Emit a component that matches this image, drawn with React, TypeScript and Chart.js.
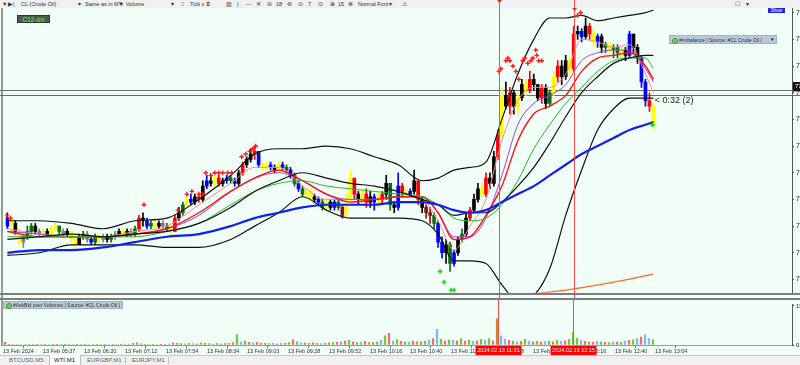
import React, { useEffect, useRef } from "react";
import { Chart, registerables } from "chart.js";
Chart.register(...registerables);

const FONT = "'Liberation Sans', Arial, sans-serif";

// ---- Candles (bar index 0..162), prices in USD ----
const OPEN = [
  77.10,77.13,77.11,77.08,77.04,77.06,77.08,77.10,77.08,77.07,
  77.08,77.07,77.09,77.10,77.08,77.07,77.08,77.05,77.03,77.06,
  77.07,77.05,77.04,77.06,77.05,77.06,77.05,77.06,77.07,77.08,
  77.07,77.08,77.07,77.09,77.13,77.12,77.10,77.11,77.10,77.11,
  77.10,77.09,77.08,77.13,77.15,77.18,77.20,77.19,77.21,77.20,
  77.25,77.27,77.26,77.28,77.26,77.27,77.28,77.27,77.26,77.30,
  77.33,77.35,77.37,77.38,77.33,77.32,77.33,77.32,77.31,77.33,
  77.32,77.31,77.29,77.26,77.24,77.22,77.23,77.21,77.20,77.19,
  77.17,77.19,77.17,77.19,77.17,77.14,77.20,77.28,77.22,77.20,
  77.22,77.19,77.21,77.19,77.20,77.22,77.26,77.18,77.17,77.25,
  77.23,77.22,77.23,77.27,77.20,77.17,77.15,77.14,77.11,77.04,
  77.00,77.03,76.96,77.00,77.05,77.07,77.13,77.16,77.20,77.24,
  77.22,77.28,77.26,77.36,77.44,77.59,77.55,77.60,77.55,77.58,
  77.63,77.61,77.65,77.63,77.58,77.62,77.56,77.60,77.66,77.70,
  77.66,77.72,77.69,77.82,77.83,77.81,77.85,77.82,77.79,77.81,
  77.77,77.78,77.76,77.77,77.75,77.76,77.74,77.82,77.77,77.73,
  77.64,77.57,77.55,
];
const CLOSE = [
  77.13,77.11,77.08,77.04,77.06,77.08,77.10,77.08,77.07,77.08,
  77.07,77.09,77.10,77.08,77.07,77.08,77.05,77.03,77.06,77.07,
  77.05,77.04,77.06,77.05,77.06,77.05,77.06,77.07,77.08,77.07,
  77.08,77.07,77.09,77.13,77.12,77.10,77.11,77.10,77.11,77.10,
  77.09,77.08,77.13,77.15,77.18,77.20,77.19,77.21,77.20,77.25,
  77.27,77.26,77.28,77.26,77.27,77.28,77.27,77.26,77.30,77.33,
  77.35,77.37,77.38,77.33,77.32,77.33,77.32,77.31,77.33,77.32,
  77.31,77.29,77.26,77.24,77.22,77.23,77.21,77.20,77.19,77.17,
  77.19,77.17,77.19,77.17,77.14,77.20,77.28,77.22,77.20,77.22,
  77.19,77.21,77.19,77.20,77.22,77.26,77.18,77.17,77.25,77.23,
  77.22,77.23,77.27,77.20,77.17,77.15,77.14,77.11,77.04,77.00,
  77.03,76.96,77.00,77.05,77.07,77.13,77.16,77.20,77.24,77.22,
  77.28,77.26,77.36,77.44,77.59,77.55,77.60,77.55,77.58,77.63,
  77.61,77.65,77.63,77.58,77.62,77.56,77.60,77.66,77.70,77.66,
  77.72,77.69,77.82,77.83,77.81,77.85,77.82,77.79,77.81,77.77,
  77.78,77.76,77.77,77.75,77.76,77.74,77.82,77.77,77.73,77.64,
  77.57,77.55,77.48,
];
const HIGH = [
  77.15,77.14,77.12,77.09,77.07,77.10,77.11,77.11,77.09,77.09,
  77.09,77.10,77.11,77.10,77.09,77.09,77.08,77.06,77.07,77.08,
  77.08,77.06,77.07,77.07,77.07,77.07,77.07,77.08,77.09,77.09,
  77.09,77.09,77.10,77.14,77.15,77.13,77.12,77.12,77.12,77.12,
  77.11,77.10,77.14,77.17,77.19,77.21,77.22,77.22,77.22,77.27,
  77.29,77.29,77.29,77.29,77.28,77.29,77.29,77.28,77.31,77.34,
  77.36,77.39,77.40,77.38,77.34,77.34,77.34,77.33,77.34,77.34,
  77.33,77.32,77.30,77.27,77.25,77.24,77.24,77.22,77.21,77.20,
  77.20,77.20,77.20,77.20,77.18,77.22,77.31,77.28,77.23,77.24,
  77.24,77.23,77.22,77.22,77.23,77.29,77.26,77.19,77.30,77.26,
  77.24,77.24,77.31,77.27,77.21,77.18,77.17,77.15,77.12,77.06,
  77.05,77.04,77.01,77.06,77.09,77.15,77.17,77.22,77.26,77.26,
  77.30,77.30,77.38,77.46,77.62,77.64,77.62,77.61,77.60,77.65,
  77.65,77.68,77.67,77.63,77.63,77.63,77.61,77.68,77.72,77.72,
  77.74,77.73,77.85,77.85,77.84,77.88,77.86,77.84,77.82,77.82,
  77.79,77.79,77.78,77.78,77.77,77.77,77.83,77.82,77.78,77.74,
  77.65,77.60,77.56,
];
const LOW = [
  77.09,77.09,77.07,77.03,77.02,77.05,77.07,77.07,77.06,77.06,
  77.06,77.06,77.08,77.07,77.06,77.06,77.04,77.02,77.03,77.05,
  77.04,77.03,77.03,77.04,77.04,77.04,77.04,77.05,77.06,77.06,
  77.06,77.06,77.06,77.08,77.10,77.09,77.09,77.09,77.09,77.09,
  77.08,77.07,77.08,77.12,77.14,77.17,77.18,77.18,77.19,77.19,
  77.24,77.25,77.25,77.25,77.25,77.26,77.26,77.25,77.25,77.29,
  77.32,77.34,77.35,77.32,77.31,77.31,77.31,77.30,77.30,77.31,
  77.30,77.28,77.25,77.23,77.21,77.21,77.20,77.19,77.18,77.16,
  77.16,77.16,77.16,77.16,77.13,77.14,77.19,77.20,77.18,77.19,
  77.17,77.17,77.16,77.17,77.18,77.20,77.16,77.15,77.16,77.21,
  77.21,77.21,77.22,77.18,77.15,77.13,77.11,77.09,77.02,76.98,
  76.96,76.93,76.95,76.99,77.04,77.06,77.12,77.15,77.19,77.21,
  77.21,77.24,77.25,77.35,77.43,77.54,77.52,77.52,77.52,77.57,
  77.59,77.60,77.61,77.57,77.56,77.54,77.55,77.59,77.64,77.63,
  77.65,77.66,77.68,77.80,77.79,77.80,77.80,77.77,77.77,77.75,
  77.75,77.74,77.73,77.73,77.73,77.72,77.73,77.75,77.71,77.62,
  77.55,77.53,77.46,
];
// candle colour codes: k black, b blue, y yellow, g green, r red, d dark red, a gray
const CANDLE_COLORS =
  "bykyaggkay" + "kyygakyykg" + "abgyakgaky" + "kagrkbgyka" + "gyrkgybkrk" +
  "bkyrkbgbkr" + "kkrbyybkyb" + "gbgbgyykbg" + "ykbgdyyrky" + "rkbyrkgkbr" +
  "ybkrkddgbb" + "kgbkgkrkky" + "rkkrykrkyk" + "yrkkrkgyrk" + "kyrkbkrybk" +
  "gyggykbkkb" + "bry";

// ---- Indicator lines sampled at these bar indices ----
const LINE_IDX = [0,8,16,24,32,40,48,56,62,68,74,80,86,92,98,104,108,112,116,120,124,128,132,136,140,144,148,152,156,160,162];
const BB_UPPER = [77.12,77.12,77.11,77.09,77.12,77.13,77.20,77.29,77.37,77.39,77.39,77.40,77.39,77.36,77.33,77.27,77.28,77.31,77.32,77.34,77.50,77.67,77.80,77.88,77.88,77.89,77.87,77.88,77.89,77.90,77.91];
const BB_MIDDLE = [77.05,77.06,77.07,77.06,77.07,77.08,77.11,77.17,77.23,77.27,77.30,77.28,77.26,77.25,77.23,77.20,77.18,77.14,77.15,77.15,77.19,77.25,77.32,77.41,77.51,77.60,77.66,77.71,77.73,77.74,77.74];
const BB_LOWER = [76.99,77.00,77.03,77.03,77.03,77.02,77.02,77.05,77.10,77.15,77.21,77.16,77.13,77.13,77.13,77.12,77.07,76.97,76.97,76.96,76.88,76.82,76.84,76.94,77.14,77.31,77.46,77.54,77.58,77.58,77.58];
const EMA_BLUE = [77.00,77.01,77.01,77.02,77.04,77.06,77.07,77.10,77.13,77.15,77.17,77.18,77.18,77.18,77.19,77.19,77.18,77.16,77.15,77.16,77.19,77.22,77.25,77.29,77.33,77.37,77.40,77.43,77.46,77.48,77.49];
const EMA_GREEN = [77.06,77.06,77.06,77.06,77.06,77.08,77.11,77.18,77.23,77.26,77.27,77.25,77.24,77.23,77.22,77.21,77.18,77.13,77.12,77.13,77.18,77.27,77.39,77.48,77.56,77.62,77.68,77.72,77.73,77.73,77.69];
const EMA_RED = [77.08,77.06,77.06,77.06,77.07,77.09,77.15,77.23,77.28,77.31,77.27,77.22,77.19,77.20,77.21,77.21,77.15,77.05,77.06,77.14,77.25,77.42,77.52,77.55,77.59,77.68,77.73,77.74,77.75,77.70,77.65];
const EMA_PURPLE = [77.08,77.07,77.06,77.06,77.07,77.09,77.14,77.23,77.28,77.30,77.27,77.22,77.20,77.20,77.21,77.21,77.15,77.06,77.06,77.13,77.29,77.48,77.56,77.59,77.63,77.72,77.75,77.76,77.76,77.69,77.64];
const EMA_PINK = [77.09,77.07,77.06,77.06,77.08,77.10,77.18,77.26,77.32,77.32,77.25,77.20,77.20,77.20,77.21,77.20,77.12,77.01,77.10,77.20,77.42,77.57,77.62,77.62,77.67,77.80,77.79,77.77,77.78,77.67,77.60];
const ORANGE_IDX = [128, 140, 152, 162];
const ORANGE_VAL = [76.84, 76.86, 76.89, 76.92];

// ---- Markers ----
const RED_MARK_X = [-0.25,0.75,34.25,42.75,45,46.25,48,49,49.75,51,52,53,54,55.25,56.25,58.75,59.75,60.75,61.5,62.25,123.25,123.75,125,125.5,126,126.75,127.5,128.25,129.25,129.75,130.5,131.25,131.75,132.5,132.75,133.25,134,143,143.75];
const RED_MARK_Y = [77.14,77.13,77.18,77.16,77.22,77.23,77.22,77.22,77.30,77.29,77.30,77.30,77.30,77.30,77.30,77.36,77.37,77.38,77.39,77.40,77.68,77.69,77.72,77.73,77.72,77.70,77.68,77.65,77.72,77.73,77.71,77.72,77.73,77.76,77.74,77.72,77.72,77.89,77.90];
const GREEN_MARK_X = [108.5, 109.5, 111.25, 112, 161.75];
const GREEN_MARK_Y = [76.93, 76.89, 76.86, 76.86, 77.48];

// ---- Levels, time markers, axis ----
const HLINES = [77.61, 77.59];
const PRICE_LABEL = 77.62;
const VLINES = [123.25, 142];
const VLINE_LABELS = ["2024.02.13 11:31", "2024.02.13 12:15"];
const Y_TICKS = [76.9, 77.0, 77.1, 77.2, 77.3, 77.4, 77.5, 77.6, 77.7, 77.8, 77.9];
const X_TICK_POS = [-0.5, 9.5, 19.75, 30, 40.25, 50.5, 60.5, 70.75, 81, 91.25, 101.25, 111.5, 121.75, 132, 142.25, 152.5, 162.5];
const X_TICK_LABELS = ["13 Feb 2024","13 Feb 05:37","13 Feb 06:20","13 Feb 07:12","13 Feb 07:54","13 Feb 08:34","13 Feb 09:03","13 Feb 09:28","13 Feb 09:52","13 Feb 10:16","13 Feb 10:40","13 Feb 11:04","13 Feb 11:28","13 Feb 11:52","13 Feb 12:16","13 Feb 12:40","13 Feb 13:04"];
const COUNTDOWN = "< 0:32 (2)";

// ---- Volumes per bar ----
const VOLUME = [
  1,0.3,0.2,0.3,0.2,0.2,0.3,0.1,0.1,0.2,
  0.1,0.2,0.3,0.1,0.2,0.1,0.1,0.2,0.1,0.2,
  0.1,0.2,0.2,0.1,0.2,0.1,0.2,0.1,0.2,0.1,
  0.2,0.2,0.6,0.8,0.5,0.3,0.2,0.3,0.2,0.3,
  0.3,0.4,0.8,0.6,0.5,0.4,0.6,0.5,0.4,0.8,
  0.6,0.5,0.4,0.5,0.4,0.5,0.6,0.8,4,1.2,
  1.5,1,0.8,1,0.7,0.6,0.5,0.6,0.4,0.5,
  0.6,0.9,2,1.2,0.8,0.7,0.6,0.8,0.6,0.5,
  0.7,0.8,0.9,1,1.2,1.5,1.8,1.2,0.9,1,
  1.4,1,0.9,1.2,1.8,3.5,4.5,1.5,2,1.4,
  1.2,1.1,1.5,1.3,1.2,1.4,1.8,2.5,6,2.2,
  1.5,2,1.8,1.6,2.5,1.5,1.8,1.4,1.6,2.2,
  1.8,2.5,1.6,10,3.5,2.2,1.8,1.5,1.2,1.4,
  2.2,1.5,1.2,1.4,1.1,1.3,1.5,1.2,1.8,1.4,
  1.6,2.2,5,2.6,1.8,1.4,1.2,1.1,1.4,1.2,
  1,0.9,1.1,1.2,1,1.4,1.8,2,2.5,3,
  4,2.5,2,
];
const VOL_COLORS =
  "rgrcgrgcrg" + "rcgrgrcggr" + "gcrgrgcrgr" + "grgrcgrgcr" + "gcrgrggcrg" +
  "rgcrgrgrgc" + "grcrgrgcrg" + "rgrgcrgrgc" + "grgrcrgrgc" + "rgrgcgrcgr" +
  "gcrgrgcrcg" + "rgcrgrgcrg" + "cgroccrgcr" + "gcrgrcgrgc" + "rgggcrgrcg" +
  "rgcrgcrgcr" + "ccg";

const CANDLE_PALETTE: Record<string, string> = {
  k: "#000000", b: "#0000ff", y: "#ffff00", g: "#0b6e0b", r: "#ff0000", d: "#8b1010", a: "#808080",
};
const VOL_PALETTE: Record<string, string> = { r: "#ff6a6a", g: "#7cc43a", c: "#78bdf5", o: "#c0902a" };

const X_MIN = -0.5;
const X_MAX = 196.75;

function pts(xs: number[], ys: number[]) {
  return xs.map((x, i) => ({ x, y: ys[i] }));
}

const mainOverlay = {
  id: "mainOverlay",
  beforeDatasetsDraw(chart: any) {
    const { ctx, scales } = chart;
    const y = scales.y;
    ctx.save();
    ctx.lineWidth = 1;
    ctx.strokeStyle = "#6e6e6e";
    HLINES.forEach((p) => {
      const py = Math.round(y.getPixelForValue(p)) + 0.5;
      ctx.beginPath(); ctx.moveTo(0, py); ctx.lineTo(chart.width, py); ctx.stroke();
    });
    ctx.restore();
  },
  afterDraw(chart: any) {
    const { ctx, chartArea, scales } = chart;
    const x = scales.x, y = scales.y;
    ctx.save();
    ctx.lineWidth = 1;
    ctx.strokeStyle = "#ff4a4a";
    VLINES.forEach((v, k) => {
      const px = Math.round(x.getPixelForValue(v)) + 0.5;
      ctx.beginPath(); ctx.moveTo(px, 0); ctx.lineTo(px, chart.height); ctx.stroke();
      ctx.fillStyle = "#ff2020";
      const ty = k === 0 ? 0 : chartArea.top;
      ctx.beginPath(); ctx.moveTo(px - 2.5, ty); ctx.lineTo(px + 2.5, ty); ctx.lineTo(px, ty + 3); ctx.closePath(); ctx.fill();
    });
    // price label on the axis
    const y1 = y.getPixelForValue(PRICE_LABEL + 0.02);
    const y2 = y.getPixelForValue(PRICE_LABEL - 0.015);
    ctx.fillStyle = "#111";
    ctx.fillRect(chartArea.right + 1, y1, chart.width - chartArea.right, y2 - y1);
    ctx.fillStyle = "#fff";
    ctx.font = `6px ${FONT}`;
    ctx.textBaseline = "middle";
    ctx.fillText(PRICE_LABEL.toFixed(2), chartArea.right + 3, (y1 + y2) / 2);
    // countdown text next to the last bar
    const last = CLOSE.length - 1;
    const cx = x.getPixelForValue(last + 0.35);
    const cy = y.getPixelForValue(OPEN[last] + 0.02);
    ctx.fillStyle = "#222";
    ctx.font = `9px ${FONT}`;
    ctx.textAlign = "left";
    ctx.fillText(COUNTDOWN, cx, cy);
    ctx.restore();
  },
};

const volOverlay = {
  id: "volOverlay",
  afterDraw(chart: any) {
    const { ctx, chartArea, scales } = chart;
    const x = scales.x;
    ctx.save();
    ctx.lineWidth = 1;
    ctx.strokeStyle = "#ff4a4a";
    VLINES.forEach((v, k) => {
      const px = Math.round(x.getPixelForValue(v)) + 0.5;
      ctx.beginPath(); ctx.moveTo(px, 0); ctx.lineTo(px, chartArea.bottom); ctx.stroke();
      ctx.fillStyle = "#ff0000";
      ctx.fillRect(px - 23, chartArea.bottom + 1, 46, 9);
      ctx.fillStyle = "#ffffff";
      ctx.font = `5.5px ${FONT}`;
      ctx.textAlign = "center";
      ctx.textBaseline = "middle";
      ctx.fillText(VLINE_LABELS[k], px, chartArea.bottom + 5.5);
    });
    ctx.restore();
  },
};

const TOOLBAR: [number, string][] = [
  [2, "▼"], [8, "▶|"], [21, "CL (Crude Oil)"], [78, "▾"], [85, "Same as in MT"], [120, "▾"],
  [126, "Volume"], [171, "▾"], [181, "⌶"], [190, "Tick x 1"], [206, "⇕"], [226, "▥"], [237, "|"],
  [246, "—"], [256, "✕"], [267, "⊝"], [276, "18"], [287, "⊛"], [298, "⊙"], [308, "7"], [318, "⊙"],
  [330, "⊕"], [338, "15"], [348, "⊗"], [358, "Normal Font"], [389, "▾"], [402, "⚠"], [735, "☐"], [746, "▾"],
];

const TABS: [number, string, boolean][] = [
  [9, "BTCUSD,M5", false], [54, "WTI,M1", true], [87, "EURGBP,M1", false], [132, "EURJPY,M1", false],
];

export default function App() {
  const mainRef = useRef<HTMLCanvasElement>(null);
  const volRef = useRef<HTMLCanvasElement>(null);

  useEffect(() => {
    document.body.style.margin = "0";
    const idx = OPEN.map((_, i) => i);
    const cColors = idx.map((i) => CANDLE_PALETTE[CANDLE_COLORS[i]] || "#000");
    const lineDs = (label: string, vals: number[], color: string, width: number, xs = LINE_IDX) => ({
      type: "line" as const,
      label,
      data: pts(xs, vals),
      borderColor: color,
      borderWidth: width,
      pointRadius: 0,
      cubicInterpolationMode: "monotone" as const,
      fill: false,
      order: 0,
    });

    const main = new Chart(mainRef.current!, {
      type: "bar",
      data: {
        datasets: [
          {
            type: "line", label: "red marks", data: pts(RED_MARK_X, RED_MARK_Y), showLine: false,
            pointStyle: "cross", pointRadius: 2.3, borderColor: "#ff1a1a", borderWidth: 1.4, order: -2,
          } as any,
          {
            type: "line", label: "green marks", data: pts(GREEN_MARK_X, GREEN_MARK_Y), showLine: false,
            pointStyle: "cross", pointRadius: 2.3, borderColor: "#10d010", borderWidth: 1.4, order: -2,
          } as any,
          lineDs("EMA blue", EMA_BLUE, "#1020ee", 2.2),
          lineDs("BB upper", BB_UPPER, "#111111", 1.2),
          lineDs("BB middle", BB_MIDDLE, "#111111", 1.2),
          lineDs("BB lower", BB_LOWER, "#111111", 1.2),
          lineDs("EMA green", EMA_GREEN, "#2ab52a", 1),
          lineDs("EMA red", EMA_RED, "#ff1010", 1.4),
          lineDs("EMA purple", EMA_PURPLE, "#a040f0", 1),
          lineDs("EMA pink", EMA_PINK, "#ff8a8a", 1),
          lineDs("Long EMA", ORANGE_VAL, "#ff6a2a", 1.4, ORANGE_IDX),
          {
            type: "bar", label: "wick", data: idx.map((i) => ({ x: i, y: [LOW[i], HIGH[i]] })),
            backgroundColor: cColors, barThickness: 1, grouped: false, order: 1,
          } as any,
          {
            type: "bar", label: "body", data: idx.map((i) => ({ x: i, y: [OPEN[i], CLOSE[i]] })),
            backgroundColor: cColors, barThickness: 3, minBarLength: 1, grouped: false, order: 1,
          } as any,
        ],
      },
      options: {
        animation: false,
        responsive: false,
        maintainAspectRatio: false,
        events: [],
        layout: { padding: { left: 3, top: 8, right: 0, bottom: 6 } },
        plugins: { legend: { display: false }, tooltip: { enabled: false } },
        scales: {
          x: { type: "linear", min: X_MIN, max: X_MAX, offset: false, display: false },
          y: {
            position: "right", min: 76.85, max: 77.9175,
            afterFit: (s: any) => { s.width = 8; },
            afterBuildTicks: (s: any) => { s.ticks = Y_TICKS.map((v) => ({ value: v })); },
            ticks: { font: { size: 7, family: FONT }, color: "#222", padding: 2, callback: (v: any) => Number(v).toFixed(2) },
            grid: { drawOnChartArea: false, tickLength: 2, color: "#555" },
            border: { color: "#555" },
          },
        },
      } as any,
      plugins: [mainOverlay],
    });

    const vol = new Chart(volRef.current!, {
      type: "bar",
      data: {
        datasets: [
          {
            label: "volume", data: idx.map((i) => ({ x: i, y: VOLUME[i] })),
            backgroundColor: idx.map((i) => VOL_PALETTE[VOL_COLORS[i]] || "#7cc43a"),
            barThickness: 1.6, grouped: false,
          } as any,
        ],
      },
      options: {
        animation: false,
        responsive: false,
        maintainAspectRatio: false,
        events: [],
        layout: { padding: { left: 3, top: 1, right: 0, bottom: 0 } },
        plugins: { legend: { display: false }, tooltip: { enabled: false } },
        scales: {
          x: {
            type: "linear", min: X_MIN, max: X_MAX, offset: false,
            afterFit: (s: any) => { s.height = 10; },
            afterBuildTicks: (s: any) => { s.ticks = X_TICK_POS.map((v) => ({ value: v })); },
            ticks: {
              autoSkip: false, maxRotation: 0, minRotation: 0, align: "start", padding: 0,
              font: { size: 5.5, family: FONT }, color: "#333",
              callback: (_v: any, i: number) => X_TICK_LABELS[i],
            },
            grid: { drawOnChartArea: false, tickLength: 3, color: "#777" },
            border: { color: "#999" },
          },
          y: {
            position: "right", min: 0, max: 15.5,
            afterFit: (s: any) => { s.width = 8; },
            afterBuildTicks: (s: any) => { s.ticks = [{ value: 0 }, { value: 15 }]; },
            ticks: { font: { size: 6, family: FONT }, color: "#222", padding: 2, callback: (v: any) => String(v) },
            grid: { drawOnChartArea: false, tickLength: 2, color: "#555" },
            border: { color: "#555" },
          },
        },
      } as any,
      plugins: [volOverlay],
    });

    return () => { main.destroy(); vol.destroy(); };
  }, []);

  const abs = (s: React.CSSProperties): React.CSSProperties => ({ position: "absolute", ...s });

  return (
    <div style={{ position: "fixed", left: 0, top: 0, width: 800, height: 365, background: "#f1fdf7", overflow: "hidden", fontFamily: FONT }}>
      <div style={abs({ left: 0, top: 0, width: 800, height: 8, background: "#f0f0f0" })}>
        {TOOLBAR.map(([x, t], i) => (
          <span key={i} style={abs({ left: x, top: 0, fontSize: 5.5, lineHeight: "8px", color: "#333", whiteSpace: "nowrap" })}>{t}</span>
        ))}
      </div>
      <div style={abs({ left: 1, top: 8, width: 2, height: 338, background: "#9a9a9a" })} />
      <canvas ref={mainRef} width={800} height={299} style={abs({ left: 0, top: 0, width: 800, height: 299 })} />
      <canvas ref={volRef} width={800} height={56} style={abs({ left: 0, top: 299, width: 800, height: 56 })} />
      <div style={abs({ left: 0, top: 293, width: 800, height: 2, background: "#7d7d7d" })} />
      <div style={abs({ left: 0, top: 298, width: 800, height: 2, background: "#7d7d7d" })} />
      <div style={abs({ left: 17, top: 15, width: 33, height: 8, background: "#555", border: "1px solid #333", boxSizing: "border-box", color: "#22ee22", fontSize: 6.5, lineHeight: "7px", textAlign: "center", fontWeight: "bold" })}>C12-on</div>
      <div style={abs({ left: 768, top: 8, width: 17, height: 5, background: "#2323e8", color: "#fff", fontSize: 4.5, lineHeight: "5px", textAlign: "center" })}>Show</div>
      <div style={abs({ left: 669, top: 35, width: 108, height: 9, background: "#b8c7da", border: "1px solid #a3b3c8", boxSizing: "border-box" })}>
        <span style={abs({ left: 2, top: 1.5, width: 4, height: 4, borderRadius: 3, background: "#7ccf5a", border: "0.5px solid #4a8a3a" })} />
        <span style={abs({ left: 9, top: 0, fontSize: 5, lineHeight: "8px", color: "#333", whiteSpace: "nowrap" })}>#Imbalance | Source: #CL Crude Oil |</span>
        <span style={abs({ left: 100, top: 0, fontSize: 4.5, lineHeight: "8px", color: "#111" })}>▼</span>
      </div>
      <div style={abs({ left: 3, top: 301, width: 120, height: 8, background: "#b8c7da", border: "1px solid #a3b3c8", boxSizing: "border-box" })}>
        <span style={abs({ left: 2, top: 1, width: 4, height: 4, borderRadius: 3, background: "#7ccf5a", border: "0.5px solid #4a8a3a" })} />
        <span style={abs({ left: 9, top: 0, fontSize: 5, lineHeight: "7px", color: "#333", whiteSpace: "nowrap" })}>#AskBid over Volumes | Source: #CL Crude Oil |</span>
      </div>
      <div style={abs({ left: 0, top: 355, width: 800, height: 10, background: "#f0f0f0", borderTop: "1px solid #c8c8c8", boxSizing: "border-box" })}>
        <div style={abs({ left: 49, top: -1, width: 32, height: 10, background: "#fff", borderLeft: "1px solid #bbb", borderRight: "1px solid #bbb", boxSizing: "border-box" })} />
        <div style={abs({ left: 125, top: 1, width: 1, height: 7, background: "#c0c0c0" })} />
        <div style={abs({ left: 168, top: 1, width: 1, height: 7, background: "#c0c0c0" })} />
        {TABS.map(([x, t, act], i) => (
          <span key={i} style={abs({ left: x, top: 0, fontSize: 6, lineHeight: "9px", color: act ? "#111" : "#666", whiteSpace: "nowrap" })}>{t}</span>
        ))}
      </div>
    </div>
  );
}
